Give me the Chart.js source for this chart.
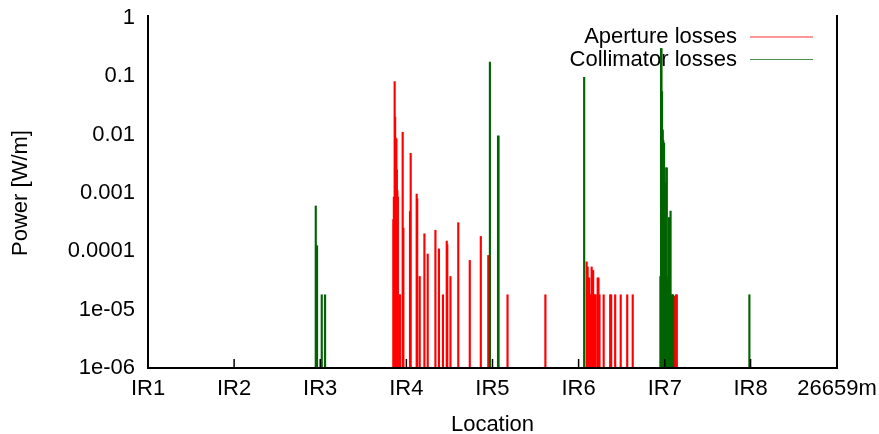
<!DOCTYPE html>
<html>
<head>
<meta charset="utf-8">
<script src="https://cdn.jsdelivr.net/npm/chart.js@4.4.0/dist/chart.umd.min.js"></script>
<style>
  body { margin: 0; background: #fff; }
</style>
</head>
<body>
<canvas id="chart" width="879" height="434"></canvas>
<script>
// positions along the ring [m] and loss power [W/m]
const FLOOR = 1e-6;
const ringLength = 26659;

const irPositions = [0, 3332, 6664, 9997, 13329, 16661, 19994, 23315, 26659];
const irLabels = ["IR1", "IR2", "IR3", "IR4", "IR5", "IR6", "IR7", "IR8", "26659m"];

const yTicks = [1e-6, 1e-5, 1e-4, 1e-3, 1e-2, 1e-1, 1];
const yTickLabels = ["1e-06", "1e-05", "0.0001", "0.001", "0.01", "0.1", "1"];

const apertureX = [
  9494, 9513, 9544, 9563, 9583, 9610, 9629, 9649, 9668, 9726, 9746,
  9854, 9881, 10137, 10164, 10396, 10416, 10513, 10695, 10823, 11121,
  11257, 11412, 11559, 11579, 11703, 12005, 12450, 12877, 13167,
  13911, 15376,
  16973, 17011, 17040, 17069, 17098, 17128, 17166, 17195, 17224, 17253, 17283, 17321,
  17399, 17430, 17469,
  17631, 17883, 17921, 18076, 18290, 18542, 18755,
  19824, 20111, 20363, 20394, 20433, 20460
];
const apertureY = [
  3.5e-4, 8.5e-4, 0.081, 0.02, 0.0088, 0.0084, 0.0025, 0.0011, 8.5e-4, 1.8e-5, 1.8e-5,
  0.011, 2.5e-4, 4.8e-4, 0.0048, 9.6e-4, 8e-4, 3.7e-5, 2e-4, 9e-5, 2.3e-4,
  1.1e-4, 1.8e-5, 1.5e-4, 1.3e-4, 3.7e-5, 3.1e-4, 7e-5, 1.8e-4, 8.5e-5,
  1.8e-5, 1.8e-5,
  6.6e-5, 5.4e-5, 3.5e-5, 3.5e-5, 1.8e-5, 1.8e-5, 5.4e-5, 4.7e-5, 4.7e-5, 1.8e-5, 1.8e-5, 1.8e-5,
  3.5e-5, 3.5e-5, 1.8e-5,
  1.8e-5, 1.8e-5, 1.8e-5, 1.8e-5, 1.8e-5, 1.8e-5, 1.8e-5,
  3.7e-5, 3.7e-5, 1.7e-5, 1.7e-5, 1.8e-5, 1.8e-5
];

const collimatorX = [
  6491, 6541, 6723, 6851,
  13229, 13543, 13562,
  16876,
  19851, 19866, 19890, 19917, 19936, 19967, 19994, 20014, 20033, 20053, 20072,
  20161, 20219, 20247, 20286, 20317,
  23269
];
const collimatorY = [
  6e-4, 1.25e-4, 1.8e-5, 1.8e-5,
  0.176, 0.0095, 0.0095,
  0.096,
  0.30, 0.30, 0.055, 0.012, 0.008, 0.0072, 8.5e-4, 8.2e-4, 0.0015, 0.0027, 0.0027,
  3.8e-4, 4.9e-4, 1.8e-5, 1.8e-5, 1.8e-5,
  1.8e-5
];

const FONT = "'Liberation Sans', Arial, sans-serif";

function impulses(xs, ys) {
  return xs.map((x, i) => ({ x: x, y: [FLOOR, ys[i]] }));
}

// box, inward x ticks and the key
const framePlugin = {
  id: "frame",
  beforeDatasetsDraw(chart) {
    const { ctx, chartArea } = chart;
    ctx.save();
    ctx.font = "22px " + FONT;
    ctx.textAlign = "right";
    ctx.textBaseline = "middle";
    chart.data.datasets.forEach((ds, i) => {
      const y = chartArea.top + 19 + i * 22.5;
      ctx.fillStyle = "#000";
      ctx.fillText(ds.label, chartArea.right - 100, y);
      ctx.strokeStyle = ds.legendColor;
      ctx.lineWidth = 1.2;
      ctx.beginPath();
      ctx.moveTo(chartArea.right - 87, y);
      ctx.lineTo(chartArea.right - 24, y);
      ctx.stroke();
    });
    ctx.restore();
  },
  afterDatasetsDraw(chart) {
    const { ctx, chartArea, scales } = chart;
    ctx.save();
    ctx.strokeStyle = "#000";
    ctx.lineWidth = 1.5;
    irPositions.forEach(p => {
      const x = scales.x.getPixelForValue(p);
      ctx.beginPath();
      ctx.moveTo(x, chartArea.bottom);
      ctx.lineTo(x, chartArea.bottom - 9);
      ctx.stroke();
    });
    ctx.lineWidth = 2;
    ctx.beginPath();
    ctx.moveTo(chartArea.left, chartArea.top - 3);
    ctx.lineTo(chartArea.left, chartArea.bottom);
    ctx.lineTo(chartArea.right, chartArea.bottom);
    ctx.lineTo(chartArea.right, chartArea.top - 3);
    ctx.stroke();
    ctx.restore();
  }
};

new Chart(document.getElementById("chart"), {
  type: "bar",
  data: {
    datasets: [
      {
        label: "Aperture losses",
        data: impulses(apertureX, apertureY),
        backgroundColor: "#ff0000",
        legendColor: "#ff3030",
        borderWidth: 0,
        barThickness: 1.5,
        order: 1
      },
      {
        label: "Collimator losses",
        data: impulses(collimatorX, collimatorY),
        backgroundColor: "#006400",
        legendColor: "#4a8f4a",
        borderWidth: 0,
        barThickness: 1.5,
        order: 0
      }
    ]
  },
  options: {
    responsive: false,
    animation: false,
    grouped: false,
    layout: { padding: { left: 0, right: 42, top: 18, bottom: 0 } },
    plugins: {
      legend: { display: false },
      tooltip: { enabled: false }
    },
    scales: {
      x: {
        type: "linear",
        min: 0,
        max: ringLength,
        offset: false,
        grid: { display: false, drawTicks: false },
        border: { display: false },
        afterBuildTicks: s => { s.ticks = irPositions.map(v => ({ value: v })); },
        afterFit: s => { s.height = 66; s.paddingLeft = 0; s.paddingRight = 0; },
        ticks: {
          autoSkip: false,
          maxRotation: 0,
          padding: 8,
          color: "#000",
          font: { family: FONT, size: 22 },
          callback: (v, i) => irLabels[i]
        },
        title: {
          display: true,
          text: "Location",
          color: "#000",
          font: { family: FONT, size: 22, lineHeight: 1 },
          padding: { top: 0, bottom: -2 }
        }
      },
      y: {
        type: "logarithmic",
        min: FLOOR,
        max: 1,
        grid: { display: false, drawTicks: false },
        border: { display: false },
        afterBuildTicks: s => { s.ticks = yTicks.map(v => ({ value: v })); },
        afterFit: s => { s.width = 148; s.paddingTop = 0; s.paddingBottom = 0; },
        ticks: {
          autoSkip: false,
          padding: 13,
          color: "#000",
          font: { family: FONT, size: 22 },
          callback: (v, i) => yTickLabels[i]
        },
        title: {
          display: true,
          text: "Power [W/m]",
          color: "#000",
          font: { family: FONT, size: 22, lineHeight: 1 },
          padding: { top: 10, bottom: 0 }
        }
      }
    }
  },
  plugins: [framePlugin]
});
</script>
</body>
</html>
